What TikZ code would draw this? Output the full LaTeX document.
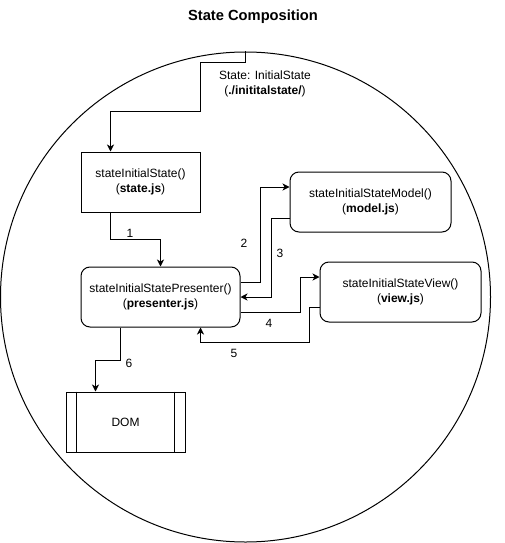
\documentclass[tikz,border=0pt]{standalone}
\usepackage{fontspec}
\setmainfont{Liberation Sans}
\usetikzlibrary{arrows.meta,calc}
\tikzset{every node/.style={font=\fontsize{12}{14.5}\selectfont},
         box/.style={draw,line width=1pt,minimum width=119pt,minimum height=60pt,inner sep=0pt,align=center},
         rbox/.style={box,rounded corners=9pt,minimum width=161pt},
         arr/.style={draw,line width=1pt,-{Stealth[length=7pt,width=7pt,inset=2pt]}},
         lbl/.style={inner sep=0pt}}

\begin{document}
\begin{tikzpicture}[x=1pt,y=-1pt]
  \useasboundingbox (0,0) rectangle (504,543);
  \node[font=\fontsize{14.7}{17}\selectfont\bfseries] (title) at (253,17) {State Composition};
  \node[draw,circle,line width=1pt,minimum size=490pt,inner sep=0pt] (scope) at (245.5,297) {};
  \node[lbl,align=center] (src) at (265,84) {State: InitialState\\(\textbf{./inititalstate/})};
  \node[box] (state) at (140.5,182) {stateInitialState()\\(\textbf{state.js})};
  \node[rbox,minimum width=159pt] (pres) at (160.5,297) {stateInitialStatePresenter()\\(\textbf{presenter.js})};
  \node[rbox] (model) at (370.5,202) {stateInitialStateModel()\\(\textbf{model.js})};
  \node[rbox] (view) at (400.5,292) {stateInitialStateView()\\(\textbf{view.js})};
  \node[box] (dom) at (125.5,422) {DOM};
  \draw[line width=1pt] ([xshift=11pt]dom.north west) -- ([xshift=11pt]dom.south west)
        ([xshift=-11pt]dom.north east) -- ([xshift=-11pt]dom.south east);
  % connectors
  \draw[arr] (scope.north) -- ++(0,11) -| ($(scope.north)+(-45,60)$) -| ([xshift=-30pt]state.north);
  \draw[arr] ([xshift=-30pt]state.south) |- ($(state.south)+(0,27)$) -| (pres.north);
  \draw[arr] ([yshift=15pt]pres.east) -- ++(20,0) |- ([yshift=15pt]model.west);
  \draw[arr] ([yshift=-16pt]model.west) -| ($(pres.east)+(31,0)$) -- (pres.east);
  \draw[arr] ([yshift=-15pt]pres.east) -- ++(60,0) |- ([yshift=15pt]view.west);
  \draw[arr] ([yshift=-15pt]view.west) -- ++(-10,0) |- ($(pres.south)+(40,15)$) -- ([xshift=40pt]pres.south);
  \draw[arr] ([xshift=-40pt]pres.south) -- ++(0,33) -| ([xshift=-30pt]dom.north);
  % step numbers
  \node[lbl] (n1) at (130,233) {1};
  \node[lbl] (n2) at (244,243) {2};
  \node[lbl] (n3) at (280,253) {3};
  \node[lbl] (n4) at (269,323) {4};
  \node[lbl] (n5) at (234,353) {5};
  \node[lbl] (n6) at (129,363) {6};
\end{tikzpicture}
\end{document}
